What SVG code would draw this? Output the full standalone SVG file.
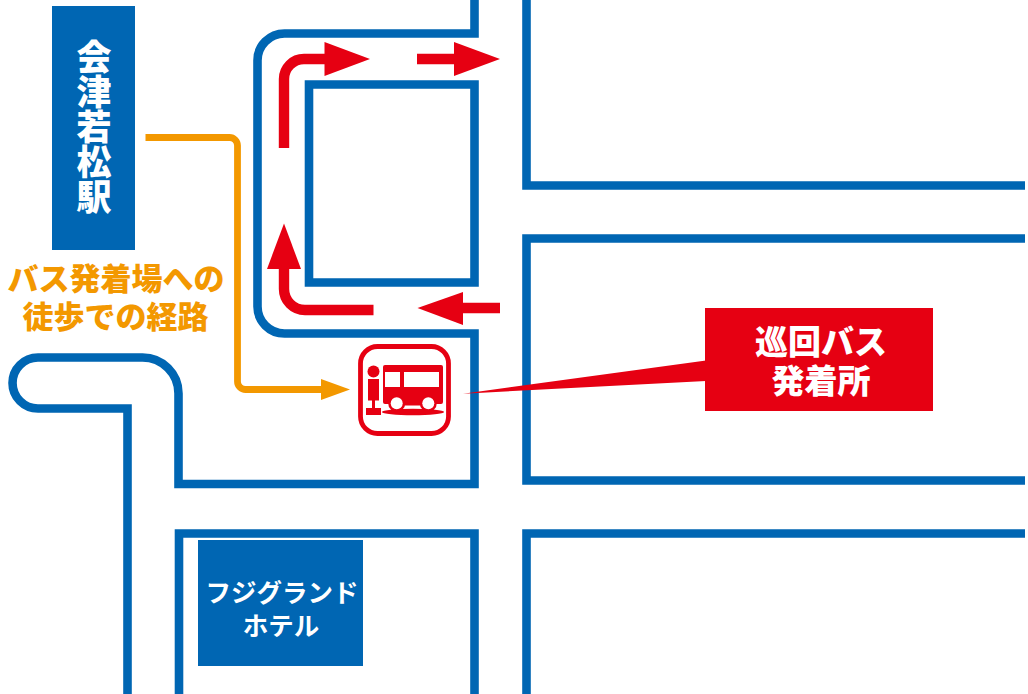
<svg xmlns="http://www.w3.org/2000/svg" width="1028" height="694" viewBox="0 0 1028 694">
<style>
.road{fill:none;stroke:#0066b3;stroke-width:8.6}
.red{fill:none;stroke:#e60012;stroke-width:10.4}
.redf{fill:#e60012}
.t{font-family:"Noto Sans CJK JP","Noto Sans",sans-serif;font-weight:900;text-anchor:middle}
.w{fill:#fff}
.o{fill:#f39800}
</style>
<rect width="1028" height="694" fill="#fff"/>
<g id="roads">
<path class="road" d="M474.500 0V33.500H284.500A27 27 0 0 0 257.500 60.500V306.500A27 27 0 0 0 284.500 333.500H474.500V484H178.500V393.500A36 36 0 0 0 142.500 357.500H38A25.500 25.500 0 0 0 38 408.500H127.500V694"/>
<path class="road" d="M309 84.500H474.500V282.500H309Z"/>
<path class="road" d="M526.500 0V185.500H1025"/>
<path class="road" d="M1025 238.500H526.500V480.500H1025"/>
<path class="road" d="M1025 533.500H526.500V694"/>
<path class="road" d="M179 694V533.500H474.500V694"/>
</g>
<g id="connectors">
<path fill="none" stroke="#f39800" stroke-width="6.800" d="M145.500 137.500H229.500A8 8 0 0 1 237.500 145.500V381.500A8 8 0 0 0 245.500 389.500H323"/>
<path class="o" d="M321 379L350 389.500L321 400Z"/>
<path class="red" d="M284 148V79A20 20 0 0 1 304 59H326"/>
<path class="redf" d="M324.500 42L370 59L324.500 76Z"/>
<path class="red" d="M417 59H456"/>
<path class="redf" d="M454 42L500 59L454 76Z"/>
<path class="red" d="M373.500 310H305A21 21 0 0 1 284 289V268"/>
<path class="redf" d="M267 269L284 223.500L301 269Z"/>
<path class="red" d="M500 308H462"/>
<path class="redf" d="M463 292L417.500 308L463 325Z"/>
<path class="redf" d="M706 360.500V381L463 393.700Z"/>
</g>
<g id="station">
<rect x="52" y="6" width="83" height="244" fill="#0066b3"/>
<text class="t w" font-size="35" x="94" y="127" style="writing-mode:vertical-rl">会津若松駅</text>
</g>
<g id="walk-label" class="t o" font-size="31"><text x="116" y="290">バス発着場への</text><text x="115.500" y="327.500">徒歩での経路</text></g>
<g id="hotel">
<rect x="198" y="540" width="165" height="126" fill="#0066b3"/>
<text class="t w" font-size="25.500" style="font-weight:700" x="282" y="602">フジグランド</text>
<text class="t w" font-size="25.500" style="font-weight:700" x="281" y="635">ホテル</text>
</g>
<g id="bus-stop">
<rect x="360.500" y="346.500" width="88" height="87" rx="17" fill="#fff" stroke="#e60012" stroke-width="4.800"/>
<circle class="redf" cx="373.500" cy="371.500" r="6"/>
<rect class="redf" x="368" y="379" width="11" height="21.500"/>
<rect class="redf" x="372" y="400" width="3" height="9"/>
<rect class="redf" x="366" y="408" width="15" height="7"/>
<rect class="redf" x="383" y="365" width="60" height="39" rx="2"/>
<rect class="redf" x="397" y="400" width="31" height="5.500"/>
<rect class="w" x="385" y="372" width="15" height="15"/>
<rect class="w" x="404" y="372" width="35" height="15"/>
<ellipse class="redf" cx="413" cy="412" rx="31" ry="3.300"/>
<circle class="redf" cx="396.700" cy="403.300" r="8.500"/><circle class="redf" cx="428.300" cy="403.300" r="8.500"/>
<circle class="w" cx="396.700" cy="403.300" r="6"/><circle class="w" cx="428.300" cy="403.300" r="6"/>
</g>
<g id="terminal">
<rect x="705" y="308" width="228" height="103" fill="#e60012"/>
<text class="t w" font-size="33" x="821" y="354">巡回バス</text>
<text class="t w" font-size="33" x="821" y="393">発着所</text>
</g>
</svg>
